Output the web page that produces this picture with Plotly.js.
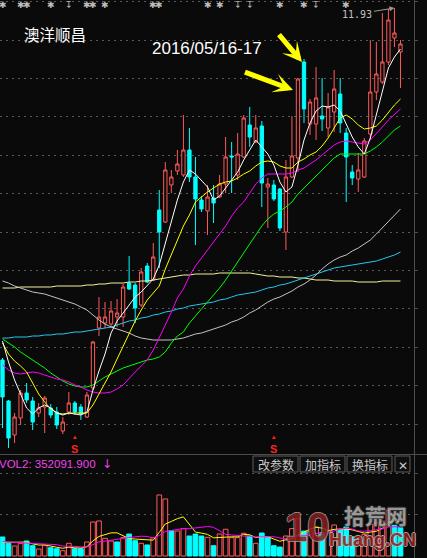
<!DOCTYPE html>
<html>
<head>
<meta charset="utf-8">
<script src="https://cdn.plot.ly/plotly-3.0.1.min.js"></script>
<style>
  html, body { margin: 0; padding: 0; background: #0a0a0a; }
  #chart { width: 427px; height: 558px; }
</style>
</head>
<body>
<div id="chart"></div>
<script>
// 澳洋顺昌 daily K-line with moving averages and volume panel
const stockName = '澳洋顺昌';

const dates = [
  '2016-03-04','2016-03-07','2016-03-08','2016-03-09','2016-03-10','2016-03-11','2016-03-14','2016-03-15','2016-03-16','2016-03-17',
  '2016-03-18','2016-03-21','2016-03-22','2016-03-23','2016-03-24','2016-03-25','2016-03-28','2016-03-29','2016-03-30','2016-03-31',
  '2016-04-01','2016-04-05','2016-04-06','2016-04-07','2016-04-08','2016-04-11','2016-04-12','2016-04-13','2016-04-14','2016-04-15',
  '2016-04-18','2016-04-19','2016-04-20','2016-04-21','2016-04-22','2016-04-25','2016-04-26','2016-04-27','2016-04-28','2016-04-29',
  '2016-05-03','2016-05-04','2016-05-05','2016-05-06','2016-05-09','2016-05-10','2016-05-11','2016-05-12','2016-05-13','2016-05-16',
  '2016-05-17','2016-05-18','2016-05-19','2016-05-20','2016-05-23','2016-05-24','2016-05-25','2016-05-26','2016-05-27','2016-05-30',
  '2016-05-31','2016-06-01','2016-06-02','2016-06-03','2016-06-06','2016-06-07','2016-06-08'
];

const open = [
  8.41, 8.00, 7.66, 7.83, 8.08, 8.00, 7.88, 7.94, 7.93, 7.89,
  7.70, 7.89, 7.98, 7.94, 7.84, 8.13, 8.73, 8.78, 8.77, 8.84,
  8.84, 9.18, 9.16, 8.96, 9.35, 9.21, 9.91, 9.79, 10.16, 10.30,
  10.26, 10.51, 10.24, 10.01, 9.90, 10.03, 10.04, 10.17, 10.45, 10.26,
  10.44, 10.76, 10.59, 10.75, 10.14, 10.16, 10.12, 9.69, 10.24, 10.43,
  11.39, 10.77, 10.77, 10.85, 10.73, 10.89, 11.07, 10.68, 10.29, 10.22,
  10.24, 10.67, 11.09, 11.19, 11.39, 11.63, 11.49
];
const high = [
  8.43, 8.01, 7.88, 8.11, 8.18, 8.04, 7.98, 8.05, 7.97, 7.94,
  7.84, 8.09, 8.00, 7.97, 8.09, 8.60, 9.04, 8.99, 9.00, 9.02,
  9.17, 9.45, 9.18, 9.33, 9.38, 9.58, 10.11, 10.39, 10.31, 10.51,
  10.86, 10.73, 10.44, 10.05, 10.16, 10.16, 10.26, 10.64, 10.59, 10.68,
  10.86, 10.94, 10.86, 10.80, 10.23, 10.21, 10.13, 10.41, 10.85, 11.23,
  11.42, 11.02, 11.34, 11.23, 11.08, 11.31, 11.23, 10.73, 10.36, 10.48,
  10.63, 11.61, 11.59, 11.88, 11.92, 11.93, 11.61
];
const low = [
  7.73, 7.53, 7.58, 7.76, 7.98, 7.71, 7.84, 7.68, 7.83, 7.72,
  7.67, 7.86, 7.86, 7.81, 7.83, 8.11, 8.65, 8.73, 8.73, 8.74,
  8.74, 9.11, 8.78, 8.94, 9.18, 9.20, 9.33, 9.78, 10.08, 10.26,
  10.24, 10.19, 9.56, 9.89, 9.66, 9.78, 10.03, 10.08, 10.08, 10.21,
  10.43, 10.54, 10.58, 9.94, 9.73, 10.00, 9.70, 9.51, 10.23, 10.29,
  10.78, 10.66, 10.61, 10.70, 10.64, 10.69, 10.68, 9.99, 10.16, 10.09,
  10.23, 10.61, 11.01, 11.17, 11.36, 11.54, 11.13
];
const close = [
  8.04, 7.63, 7.84, 8.08, 8.01, 7.79, 7.93, 8.03, 7.86, 7.76,
  7.79, 7.98, 7.89, 7.87, 8.06, 8.59, 8.84, 8.84, 8.90, 8.88,
  9.14, 9.12, 8.93, 9.29, 9.19, 9.44, 9.69, 10.31, 10.24, 10.37,
  10.51, 10.24, 10.02, 9.92, 10.04, 9.98, 10.17, 10.44, 10.44, 10.47,
  10.83, 10.64, 10.73, 10.18, 10.17, 10.02, 9.73, 10.24, 10.45, 11.22,
  10.92, 10.99, 11.03, 10.82, 10.94, 11.12, 10.78, 10.44, 10.23, 10.31,
  10.60, 11.09, 11.27, 11.39, 11.81, 11.68, 11.57
];

// Price moving averages
const ma5 = [
  8.60, 8.39, 8.21, 8.06, 7.93, 7.87, 7.93, 7.96, 7.93, 7.88,
  7.86, 7.88, 7.87, 7.86, 7.89, 8.11, 8.30, 8.47, 8.68, 8.80,
  8.88, 8.96, 9.04, 9.09, 9.16, 9.22, 9.36, 9.58, 9.81, 10.01,
  10.19, 10.31, 10.27, 10.21, 10.14, 10.01, 10.05, 10.13, 10.21, 10.29,
  10.41, 10.51, 10.61, 10.54, 10.47, 10.36, 10.19, 10.09, 10.14, 10.36,
  10.61, 10.78, 10.90, 10.95, 10.94, 10.96, 10.90, 10.77, 10.64, 10.54,
  10.47, 10.63, 10.86, 11.11, 11.33, 11.44, 11.52
];
const ma10 = [
  8.58, 8.47, 8.40, 8.35, 8.29, 8.18, 8.07, 7.99, 7.92, 7.88,
  7.87, 7.88, 7.88, 7.88, 7.88, 7.96, 8.07, 8.17, 8.29, 8.42,
  8.55, 8.68, 8.80, 8.91, 9.01, 9.08, 9.15, 9.32, 9.47, 9.60,
  9.75, 9.86, 9.99, 10.04, 10.09, 10.13, 10.17, 10.19, 10.20, 10.23,
  10.27, 10.30, 10.35, 10.39, 10.40, 10.39, 10.35, 10.33, 10.33, 10.39,
  10.42, 10.46, 10.49, 10.55, 10.63, 10.73, 10.83, 10.86, 10.82, 10.76,
  10.72, 10.73, 10.75, 10.81, 10.89, 10.96, 11.02
];
const ma20 = [
  8.36, 8.31, 8.28, 8.27, 8.28, 8.29, 8.28, 8.26, 8.24, 8.22,
  8.21, 8.19, 8.16, 8.14, 8.11, 8.09, 8.08, 8.08, 8.09, 8.12,
  8.16, 8.23, 8.29, 8.35, 8.41, 8.51, 8.63, 8.76, 8.89, 9.03,
  9.12, 9.25, 9.35, 9.43, 9.51, 9.59, 9.67, 9.75, 9.85, 9.93,
  9.99, 10.08, 10.17, 10.23, 10.27, 10.27, 10.27, 10.27, 10.28, 10.31,
  10.33, 10.37, 10.41, 10.46, 10.51, 10.56, 10.59, 10.60, 10.59, 10.58,
  10.57, 10.61, 10.67, 10.74, 10.81, 10.87, 10.92
];
const ma30 = [
  8.62, 8.58, 8.54, 8.49, 8.45, 8.41, 8.37, 8.33, 8.28, 8.24,
  8.20, 8.17, 8.15, 8.14, 8.14, 8.16, 8.20, 8.24, 8.27, 8.30,
  8.33, 8.35, 8.37, 8.39, 8.41, 8.42, 8.44, 8.49, 8.58, 8.65,
  8.69, 8.78, 8.85, 8.91, 8.98, 9.06, 9.13, 9.21, 9.30, 9.39,
  9.49, 9.58, 9.67, 9.75, 9.82, 9.87, 9.90, 9.94, 9.99, 10.07,
  10.13, 10.19, 10.26, 10.32, 10.37, 10.43, 10.47, 10.47, 10.47, 10.47,
  10.47, 10.50, 10.54, 10.59, 10.65, 10.71, 10.75
];
const ma60 = [
  9.20, 9.18, 9.15, 9.13, 9.11, 9.09, 9.08, 9.07, 9.05, 9.03,
  9.01, 8.99, 8.97, 8.94, 8.91, 8.86, 8.81, 8.77, 8.74, 8.72,
  8.70, 8.68, 8.65, 8.63, 8.62, 8.61, 8.61, 8.61, 8.61, 8.62,
  8.63, 8.65, 8.67, 8.68, 8.70, 8.72, 8.74, 8.76, 8.79, 8.81,
  8.84, 8.88, 8.91, 8.95, 8.99, 9.02, 9.04, 9.07, 9.10, 9.14,
  9.17, 9.21, 9.26, 9.32, 9.37, 9.41, 9.44, 9.46, 9.50, 9.53,
  9.57, 9.61, 9.67, 9.73, 9.79, 9.86, 9.92
];
const ma120 = [
  8.63, 8.63, 8.64, 8.64, 8.64, 8.65, 8.65, 8.66, 8.66, 8.67,
  8.67, 8.68, 8.69, 8.69, 8.70, 8.71, 8.72, 8.73, 8.74, 8.76,
  8.78, 8.80, 8.81, 8.83, 8.84, 8.86, 8.87, 8.89, 8.90, 8.92,
  8.93, 8.95, 8.96, 8.97, 8.98, 8.99, 9.01, 9.02, 9.04, 9.06,
  9.07, 9.08, 9.09, 9.11, 9.13, 9.14, 9.16, 9.17, 9.19, 9.21,
  9.23, 9.25, 9.27, 9.29, 9.31, 9.33, 9.34, 9.35, 9.36, 9.37,
  9.38, 9.39, 9.40, 9.42, 9.44, 9.46, 9.49
];
const ma250 = [
  9.13, 9.13, 9.13, 9.14, 9.14, 9.14, 9.14, 9.14, 9.14, 9.15,
  9.15, 9.15, 9.15, 9.15, 9.16, 9.16, 9.17, 9.17, 9.18, 9.18,
  9.18, 9.19, 9.19, 9.20, 9.20, 9.21, 9.22, 9.23, 9.24, 9.25,
  9.26, 9.26, 9.27, 9.27, 9.27, 9.27, 9.28, 9.28, 9.28, 9.28,
  9.28, 9.28, 9.27, 9.26, 9.25, 9.25, 9.24, 9.24, 9.24, 9.23,
  9.23, 9.22, 9.21, 9.21, 9.21, 9.20, 9.20, 9.20, 9.20, 9.19,
  9.19, 9.19, 9.19, 9.20, 9.20, 9.20, 9.20
];

// Volume (hands)
const volume = [
  229000, 153000, 120000, 153000, 181000, 124000, 84000, 129000, 100000, 88000,
  64000, 153000, 88000, 88000, 169000, 410000, 422000, 213000, 181000, 169000,
  221000, 265000, 184000, 153000, 133000, 221000, 735000, 687000, 305000, 301000,
  329000, 241000, 265000, 241000, 225000, 124000, 265000, 322000, 221000, 221000,
  274000, 241000, 153000, 277000, 225000, 124000, 108000, 241000, 330000, 450000,
  300000, 300000, 350000, 280000, 300000, 374000, 320000, 350000, 230000, 220000,
  260000, 380000, 400000, 420000, 550000, 370000, 340919
];
// Volume averages carried in from the sessions before the first bar
const volMa5Head = [165000, 165000, 165000, 166000];
const volMa10Head = [172000, 168000, 164000, 160000, 157000, 153000, 150000, 146000, 141000];

// Event markers along the top edge and buy-signal days
const infoDays = [0, 3, 4, 8, 14, 15, 17, 25, 26, 34, 36, 46, 50, 57];
const noticeDays = [11, 39, 41, 52];
const signalDays = [12, 45];
const highlightDays = [49, 50];

// ---- geometry of the two panels ----
const W = 427, H = 558;
const panelRight = 414;
const priceBottom = 454;
const volTop = 455;
const slot = 6.03;
const firstCenter = 2.5;
const xRange = [-firstCenter / slot, (panelRight - firstCenter) / slot];
const px = x => x / W;
const py = y => 1 - y / H;

const bg = '#0a0a0a';
const upColor = '#ff5a5a';
const downColor = '#00ffff';
const gridColor = '#5a5a5a';
const frameColor = '#4c4c4c';

function movingAverage(values, n, head) {
  return values.map((_, i) => {
    if (i < n - 1) return head[i];
    let s = 0;
    for (let k = i - n + 1; k <= i; k++) s += values[k];
    return s / n;
  });
}
const volMa5 = movingAverage(volume, 5, volMa5Head);
const volMa10 = movingAverage(volume, 10, volMa10Head);
const volUp = volume.map((_, i) => i === 0 ? close[0] >= open[0] : close[i] >= close[i - 1]);

const traces = [];
traces.push({
  type: 'candlestick', x: dates, open: open, high: high, low: low, close: close,
  xaxis: 'x', yaxis: 'y', whiskerwidth: 0, hoverinfo: 'skip',
  increasing: { line: { color: upColor, width: 1 }, fillcolor: bg },
  decreasing: { line: { color: downColor, width: 1 }, fillcolor: downColor }
});

const maLines = [
  { y: ma250, color: '#f2f29a' },
  { y: ma120, color: '#22c8ee' },
  { y: ma60, color: '#c4c4c4' },
  { y: ma30, color: '#00ff00' },
  { y: ma20, color: '#ff00ff' },
  { y: ma10, color: '#ffff00' },
  { y: ma5, color: '#ffffff' }
];
maLines.forEach(m => traces.push({
  type: 'scatter', mode: 'lines', x: dates, y: m.y, xaxis: 'x', yaxis: 'y',
  line: { color: m.color, width: 1 }, hoverinfo: 'skip'
}));

traces.push({
  type: 'bar', x: dates, y: volume, xaxis: 'x2', yaxis: 'y2', width: 0.78,
  marker: {
    color: volUp.map(u => u ? bg : downColor),
    line: { color: volUp.map(u => u ? upColor : downColor), width: 1 }
  },
  hoverinfo: 'skip'
});
traces.push({ type: 'scatter', mode: 'lines', x: dates, y: volMa5, xaxis: 'x2', yaxis: 'y2',
  line: { color: '#ffff00', width: 1 }, hoverinfo: 'skip' });
traces.push({ type: 'scatter', mode: 'lines', x: dates, y: volMa10, xaxis: 'x2', yaxis: 'y2',
  line: { color: '#ff00ff', width: 1 }, hoverinfo: 'skip' });

// ---- text and decorations ----
const cjk = '"Noto Sans CJK SC", sans-serif';
const annotations = [];

annotations.push({ xref: 'paper', yref: 'paper', x: px(22), y: py(34), xanchor: 'left', yanchor: 'middle',
  text: stockName, showarrow: false, font: { family: cjk, size: 15.5, color: '#ffffff' } });

const noteText = dates[highlightDays[0]].replace(/-/g, '/') + '-' + dates[highlightDays[1]].slice(8);
annotations.push({ xref: 'paper', yref: 'paper', x: px(150), y: py(48), xanchor: 'left', yanchor: 'middle',
  text: noteText, showarrow: false, font: { family: 'Liberation Sans, Arial, sans-serif', size: 17, color: '#ffffff' } });

// yellow pointers at the two highlighted sessions
annotations.push({ xref: 'x', yref: 'y', x: dates[highlightDays[1]], y: high[highlightDays[1]],
  xshift: -2, yshift: -3, ax: -26, ay: -31, text: ' ', showarrow: true,
  arrowcolor: '#ffff00', arrowwidth: 5, arrowsize: 0.65, arrowhead: 3 });
annotations.push({ xref: 'x', yref: 'y', x: dates[highlightDays[0]], y: close[highlightDays[0]],
  xshift: -5, yshift: -11, ax: -51, ay: -19, text: ' ', showarrow: true,
  arrowcolor: '#ffff00', arrowwidth: 5, arrowsize: 0.65, arrowhead: 3 });

// highest price in view
let topIdx = 0;
high.forEach((h, i) => { if (h > high[topIdx]) topIdx = i; });
annotations.push({ xref: 'x', yref: 'y', x: dates[topIdx], y: high[topIdx], ax: -37, ay: 6,
  text: high[topIdx].toFixed(2), showarrow: true, arrowcolor: '#9a9a9a', arrowwidth: 1, arrowsize: 1, arrowhead: 2,
  font: { family: 'DejaVu Sans Mono, monospace', size: 10, color: '#c0c0c0' } });

// volume panel title
annotations.push({ xref: 'paper', yref: 'paper', x: px(-3), y: py(463.5), xanchor: 'left', yanchor: 'middle',
  text: 'VOL2: ' + volMa10[volMa10.length - 1].toFixed(3), showarrow: false,
  font: { family: 'Liberation Sans, Arial, sans-serif', size: 11.5, color: '#ee44ee' } });
annotations.push({ xref: 'paper', yref: 'paper', x: px(107), y: py(464), xanchor: 'center', yanchor: 'middle',
  text: '↓', showarrow: false, font: { family: 'DejaVu Sans, sans-serif', size: 12, color: '#ee44ee' } });

// panel buttons
const buttons = [
  { label: '改参数', x0: 253, x1: 298 },
  { label: '加指标', x0: 300, x1: 345 },
  { label: '换指标', x0: 347, x1: 392 },
  { label: '✕', x0: 395, x1: 410 }
];
const shapes = [];
buttons.forEach(b => {
  shapes.push({ type: 'rect', xref: 'paper', yref: 'paper', x0: px(b.x0), x1: px(b.x1), y0: py(472), y1: py(456),
    line: { color: '#5c5c5c', width: 1 }, fillcolor: '#0e0e0e', layer: 'above' });
  annotations.push({ xref: 'paper', yref: 'paper', x: px((b.x0 + b.x1) / 2), y: py(464), xanchor: 'center', yanchor: 'middle',
    text: b.label, showarrow: false, font: { family: cjk, size: 12, color: '#c8c8c8' } });
});

// separator between price and volume panels, and the right frame
shapes.push({ type: 'line', xref: 'paper', yref: 'paper', x0: 0, x1: 1, y0: py(454.5), y1: py(454.5),
  line: { color: frameColor, width: 1 } });
shapes.push({ type: 'line', xref: 'paper', yref: 'paper', x0: px(414.5), x1: px(414.5), y0: 0, y1: 1,
  line: { color: frameColor, width: 1 } });

// buy signals: a small red triangle above an S
signalDays.forEach(i => {
  annotations.push({ xref: 'x', yref: 'paper', x: dates[i], y: py(444.5), xanchor: 'center', yanchor: 'middle',
    text: '<span style="font-size:6px">▲</span><br><b>S</b>', showarrow: false,
    font: { family: 'Liberation Sans, Arial, sans-serif', size: 11, color: '#ff2020' } });
});

// information markers along the top
infoDays.forEach(i => annotations.push({ xref: 'x', yref: 'paper', x: dates[i], y: py(5), xanchor: 'center', yanchor: 'middle',
  text: '✱', showarrow: false, font: { family: 'DejaVu Sans, sans-serif', size: 9, color: '#bdbdbd' } }));
noticeDays.forEach(i => annotations.push({ xref: 'x', yref: 'paper', x: dates[i], y: py(5.5), xanchor: 'center', yanchor: 'middle',
  text: '↧', showarrow: false, font: { family: 'DejaVu Sans, sans-serif', size: 9, color: '#bdbdbd' } }));

// site mark in the lower right corner
const outline = c => `-1px 0 ${c}, 1px 0 ${c}, 0 -1px ${c}, 0 1px ${c}`;
annotations.push({ xref: 'paper', yref: 'paper', x: px(307), y: py(527), xanchor: 'center', yanchor: 'middle',
  text: '<b>10</b>', showarrow: false, opacity: 0.85,
  font: { family: 'Liberation Sans, Arial, sans-serif', size: 40, color: '#8c1c1c', shadow: outline('#9a9a9a') } });
annotations.push({ xref: 'paper', yref: 'paper', x: px(375), y: py(515), xanchor: 'center', yanchor: 'middle',
  text: '<b>拾荒网</b>', showarrow: false, opacity: 0.85,
  font: { family: cjk, size: 21, color: '#b0b0b0', shadow: outline('#3a3a3a') } });
annotations.push({ xref: 'paper', yref: 'paper', x: px(372), y: py(540), xanchor: 'center', yanchor: 'middle',
  text: '<b>Huang.CN</b>', showarrow: false, opacity: 0.85,
  font: { family: 'Liberation Sans, Arial, sans-serif', size: 18, color: '#9a1c1c', shadow: outline('#bbbbbb') } });

const layout = {
  width: W, height: H,
  margin: { l: 0, r: 0, t: 0, b: 0, pad: 0 },
  paper_bgcolor: bg, plot_bgcolor: bg,
  showlegend: false, hovermode: false, dragmode: false,
  boxgap: 0.22,
  xaxis: {
    type: 'category', domain: [0, panelRight / W], range: xRange, anchor: 'y',
    showgrid: false, zeroline: false, showticklabels: false, ticks: '', showline: false,
    rangeslider: { visible: false }, fixedrange: true
  },
  xaxis2: {
    type: 'category', domain: [0, panelRight / W], range: xRange, anchor: 'y2', matches: 'x',
    showgrid: false, zeroline: false, showticklabels: false, ticks: '', showline: false, fixedrange: true
  },
  yaxis: {
    domain: [1 - priceBottom / H, 1], range: [7.47, 12.01], side: 'right', anchor: 'x',
    tick0: 11.61, dtick: 0.384, showgrid: true, gridcolor: gridColor, griddash: '2px,4px', gridwidth: 1,
    zeroline: false, showticklabels: false, ticks: 'outside', ticklen: 3, tickcolor: frameColor,
    showline: false, fixedrange: true
  },
  yaxis2: {
    domain: [0, 1 - volTop / H], range: [-24096, 1216848], side: 'right', anchor: 'x2',
    tickmode: 'array', tickvals: [500000, 1000000], showgrid: true, gridcolor: gridColor, griddash: '2px,4px',
    zeroline: false, showticklabels: false, ticks: 'outside', ticklen: 3, tickcolor: frameColor,
    showline: false, fixedrange: true
  },
  annotations: annotations,
  shapes: shapes
};

Plotly.newPlot('chart', traces, layout, { staticPlot: true, displayModeBar: false });
</script>
</body>
</html>
